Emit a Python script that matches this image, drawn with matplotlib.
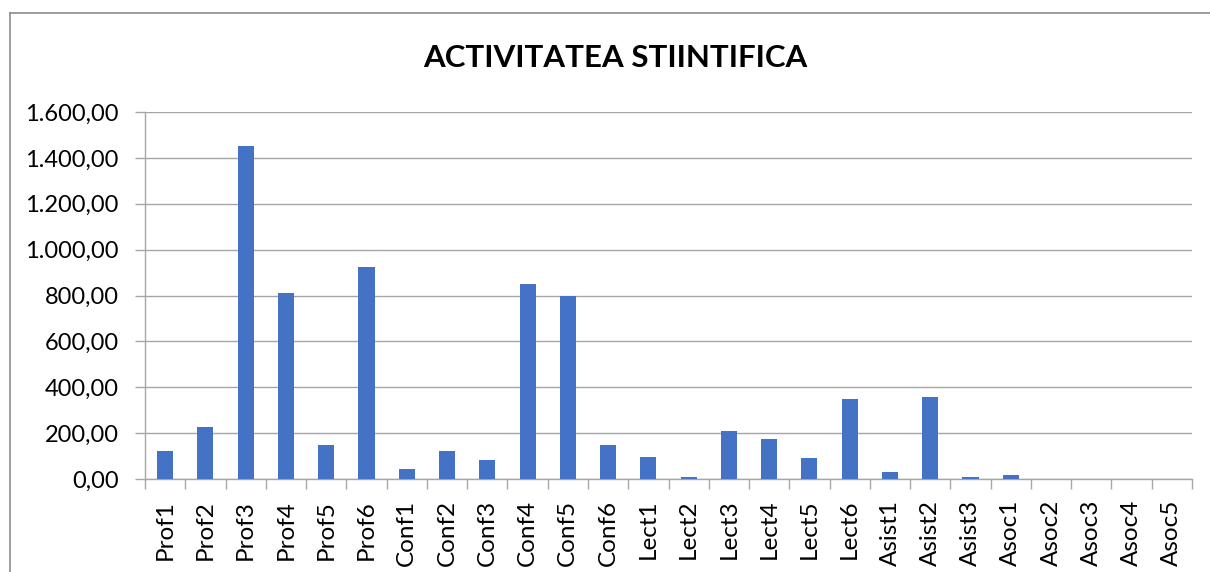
import matplotlib
matplotlib.use("Agg")
import matplotlib.pyplot as plt
from matplotlib.lines import Line2D
from matplotlib.ticker import FuncFormatter, MultipleLocator

categories = ["Prof1", "Prof2", "Prof3", "Prof4", "Prof5", "Prof6",
              "Conf1", "Conf2", "Conf3", "Conf4", "Conf5", "Conf6",
              "Lect1", "Lect2", "Lect3", "Lect4", "Lect5", "Lect6",
              "Asist1", "Asist2", "Asist3",
              "Asoc1", "Asoc2", "Asoc3", "Asoc4", "Asoc5"]
values = [120, 226, 1450, 813, 149, 926,
          43, 120, 81, 852, 800, 149,
          97, 9, 209, 174, 91, 350,
          30, 359, 8,
          19, 0, 0, 0, 0]
title = "ACTIVITATEA STIINTIFICA"

plt.rcParams['font.family'] = ['Lato', 'DejaVu Sans']

fig = plt.figure(figsize=(12.10, 5.72), dpi=100)
ax = fig.add_axes([145/1210, 93/572, (1192-145)/1210, (479-112)/572])

x = list(range(len(categories)))
ax.bar(x, values, width=0.4, color="#4472C4", zorder=3)

ax.set_xlim(-0.5, len(categories) - 0.5)
ax.set_ylim(0, 1600)
ax.yaxis.set_major_locator(MultipleLocator(200))

def fmt(v, pos):
    s = f"{v:,.2f}"
    return s.replace(",", "X").replace(".", ",").replace("X", ".")
ax.yaxis.set_major_formatter(FuncFormatter(fmt))

ax.set_xticks([i - 0.5 for i in range(len(categories) + 1)], minor=False)
ax.set_xticklabels([])
ax.set_xticks(x, minor=True)
ax.set_xticklabels(categories, minor=True, rotation=90)
ax.tick_params(axis='x', which='minor', length=0, labelsize=17.5, pad=15, colors='#000000')
ax.tick_params(axis='x', which='major', length=7, color='#A6A6A6', width=1)
ax.tick_params(axis='y', length=7, color='#A6A6A6', width=1, labelsize=17, pad=12)

ax.grid(axis='y', color='#A6A6A6', linewidth=1, zorder=0)
for s in ['top', 'right']:
    ax.spines[s].set_visible(False)
for s in ['left', 'bottom']:
    ax.spines[s].set_color('#A6A6A6')
    ax.spines[s].set_linewidth(1)

fig.text(615/1210, 1 - 58/572, title, ha='center', va='center',
         fontsize=22.5, fontweight='bold', color='#000000')

# outer chart border (left and top edges visible)
fig.add_artist(Line2D([10/1210, 10/1210], [0, 1 - 13/572], transform=fig.transFigure,
                      color='#8C8C8C', linewidth=1.2))
fig.add_artist(Line2D([10/1210, 1], [1 - 13/572, 1 - 13/572], transform=fig.transFigure,
                      color='#8C8C8C', linewidth=1.2))

fig.savefig("out.png", dpi=100)
